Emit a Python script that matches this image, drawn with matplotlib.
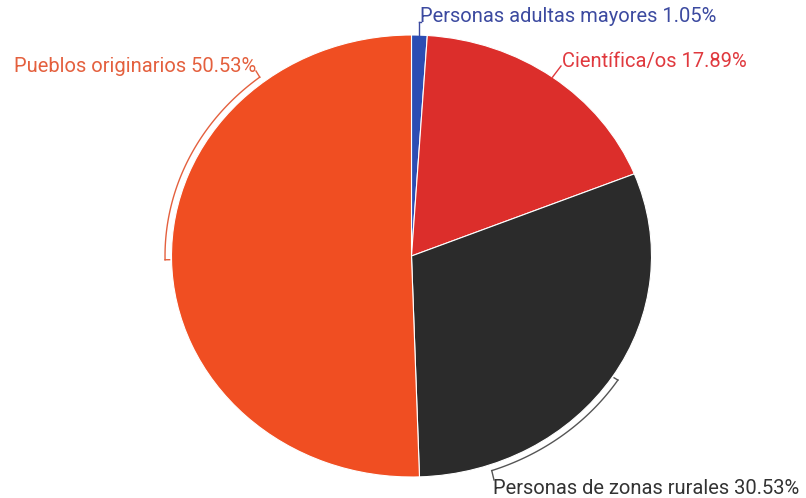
import numpy as np
import matplotlib.pyplot as plt

# === DATA ===
labels = ["Personas adultas mayores", "Científica/os", "Personas de zonas rurales", "Pueblos originarios"]
shares = [1.05, 17.89, 30.53, 50.53]
colors = ["#2c4db3", "#dc2e2b", "#2b2b2b", "#f04e22"]
text_colors = ["#3c4aa0", "#e0393e", "#333333", "#e4603e"]

# === LAYOUT (pixels) ===
W, H = 806, 498
CX, CY = 411.5, 256          # pie centre
RX, RY = 240, 221            # pie is drawn slightly squashed
FS = 14.5

fig = plt.figure(figsize=(W / 100, H / 100), dpi=100)
ax = fig.add_axes([0, 0, 1, 1])
ax.pie(shares, colors=colors, startangle=90, counterclock=False,
       wedgeprops=dict(edgecolor="white", linewidth=0.8))
ax.set_aspect("auto")
ax.set_xlim(-CX / RX, (W - CX) / RX)
ax.set_ylim(-(H - CY) / RY, CY / RY)
ax.axis("off")


def to_data(px, py):
    return (px - CX) / RX, (CY - py) / RY


def on_arc(deg, r=1.0):
    a = np.radians(deg)
    return r * np.cos(a), r * np.sin(a)


# mid angle of each slice (degrees, clockwise from top)
bounds = np.cumsum([0] + shares) / 100 * 360
mids = [90 - (bounds[i] + bounds[i + 1]) / 2 for i in range(len(shares))]

# label positions (pixel), alignment - same order as labels
lab_pos = [(420, 17, "left"), (562, 62, "left"), (493, 488, "left"), (256, 67, "right")]
for i, (lx, ly, ha) in enumerate(lab_pos):
    x, y = to_data(lx, ly)
    ax.text(x, y, f"{labels[i]} {shares[i]:.2f}%", color=text_colors[i],
            fontsize=FS, fontfamily="Roboto", ha=ha, va="center")

R_OUT, R_IN = 1.027, 1.008

# blue: short vertical leader
x0, y0 = on_arc(mids[0])
ax.plot([x0, x0], [y0, to_data(0, 22)[1]], color=text_colors[0], lw=1)
ax.plot([x0, to_data(421, 0)[0]], [to_data(0, 22)[1]] * 2, color=text_colors[0], lw=1)

# red: straight leader to label
x0, y0 = on_arc(mids[1])
x1, y1 = to_data(561, 66)
ax.plot([x0, x1], [y0, y1], color=text_colors[1], lw=1)

# orange: bracket along the arc from slice middle up to label
end_deg = 128
t = np.linspace(mids[3] + 360 if mids[3] < 0 else mids[3], end_deg, 60)
ax.plot(R_OUT * np.cos(np.radians(t)), R_OUT * np.sin(np.radians(t)), color=text_colors[3], lw=1)
xa, ya = on_arc(t[0], R_OUT)
xb, yb = on_arc(t[0], R_IN)
ax.plot([xa, xb], [ya, yb], color=text_colors[3], lw=1)
xe, ye = on_arc(end_deg, R_OUT)
x1, y1 = to_data(256, 71)
ax.plot([xe, x1], [ye, y1], color=text_colors[3], lw=1)

# dark: bracket from slice middle down to label
end_deg = -71
t = np.linspace(mids[2], end_deg, 60)
ax.plot(R_OUT * np.cos(np.radians(t)), R_OUT * np.sin(np.radians(t)), color="#555555", lw=1)
xa, ya = on_arc(t[0], R_OUT)
xb, yb = on_arc(t[0], R_IN)
ax.plot([xa, xb], [ya, yb], color="#555555", lw=1)
xe, ye = on_arc(end_deg, R_OUT)
x1, y1 = to_data(494, 480)
ax.plot([xe, x1], [ye, y1], color="#555555", lw=1)

fig.savefig("out.png", dpi=100, facecolor="white")
